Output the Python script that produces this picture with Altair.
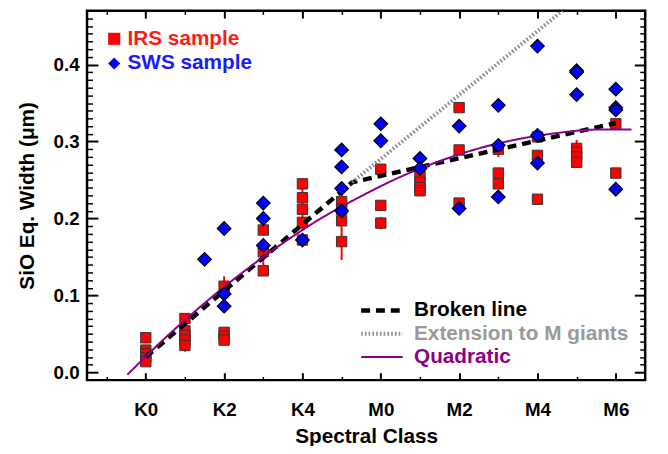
import altair as alt
import pandas as pd

# ---------------- data ----------------
CLASS_LABELS = ["K0", "K1", "K2", "K3", "K4", "K5", "M0", "M1", "M2", "M3", "M4", "M5", "M6"]

irs_x = [0, 0, 0, 0, 0, 1, 1, 1, 1, 1, 2, 2, 2, 2, 3, 3, 3, 4, 4, 4, 4, 4, 5, 5, 5, 5,
         6, 6, 6, 7, 7, 7, 7, 8, 8, 8, 9, 9, 9, 10, 10, 10, 11, 11, 11, 11, 12, 12]
irs_y = [0.045, 0.029, 0.024, 0.019, 0.014,
         0.070, 0.054, 0.048, 0.042, 0.035,
         0.112, 0.052, 0.047, 0.042,
         0.185, 0.157, 0.132,
         0.245, 0.227, 0.212, 0.195, 0.172,
         0.222, 0.212, 0.197, 0.170,
         0.264, 0.217, 0.194,
         0.255, 0.247, 0.240, 0.236,
         0.344, 0.289, 0.220,
         0.290, 0.259, 0.245,
         0.306, 0.282, 0.225,
         0.291, 0.286, 0.280, 0.273,
         0.323, 0.259]

sws_x = [1.5, 2, 2, 2, 3, 3, 3, 4, 5, 5, 5, 5, 6, 6, 7, 7, 8, 8, 9, 9, 9,
         10, 10, 10, 11, 11, 11, 12, 12, 12, 12]
sws_y = [0.147,
         0.187, 0.102, 0.086,
         0.220, 0.200, 0.165,
         0.172,
         0.289, 0.267, 0.239, 0.210,
         0.323, 0.301,
         0.278, 0.265,
         0.320, 0.213,
         0.347, 0.295, 0.228,
         0.424, 0.308, 0.272,
         0.392, 0.390, 0.361,
         0.368, 0.344, 0.341, 0.238]

err_x = [0, 1, 2, 3, 4, 5, 6, 9, 11]
err_lo = [0.038, 0.027, 0.099, 0.138, 0.184, 0.146, 0.186, 0.280, 0.270]
err_hi = [0.052, 0.043, 0.125, 0.172, 0.252, 0.232, 0.202, 0.300, 0.302]

broken_x = [0, 5.27, 12]
broken_y = [0.020, 0.247, 0.324]
ext_x = [5.27, 10.64]
ext_y = [0.247, 0.470]
quad_x = [-0.47, 0.5, 1.5, 2.5, 3.5, 4.5, 5.5, 6.5, 7.5, 8.5, 9.5, 10.5, 11.5, 12.4]
quad_y = [-0.003, 0.045, 0.090, 0.131, 0.168, 0.201, 0.229, 0.254, 0.2745, 0.291,
          0.303, 0.311, 0.3155, 0.3157]

SAMPLES = ["IRS sample", "SWS sample"]
CURVES = ["Broken line", "Extension to M giants", "Quadratic"]

x_major = [0, 2, 4, 6, 8, 10, 12]
x_minor = [-1, 1, 3, 5, 7, 9, 11]
y_major = [0.0, 0.1, 0.2, 0.3, 0.4]
y_minor = [round(i / 100, 2) for i in range(1, 47) if i % 10 != 0]

# ---------------- tables ----------------
irs_df = pd.DataFrame({"x": irs_x, "y": irs_y, "sample": SAMPLES[0]})
sws_df = pd.DataFrame({"x": sws_x, "y": sws_y, "sample": SAMPLES[1]})
err_df = pd.DataFrame({"x": err_x, "lo": err_lo, "hi": err_hi})
lin_df = pd.concat([
    pd.DataFrame({"x": broken_x, "y": broken_y, "curve": CURVES[0], "o": range(len(broken_x))}),
    pd.DataFrame({"x": ext_x, "y": ext_y, "curve": CURVES[1], "o": range(len(ext_x))}),
])
quad_df = pd.DataFrame({"x": quad_x, "y": quad_y, "curve": CURVES[2], "o": range(len(quad_x))})

FONT = "Liberation Sans"
XS = alt.Scale(domain=[-1.5, 12.75], nice=False, zero=False)
YS = alt.Scale(domain=[-0.01, 0.47], nice=False, zero=False)


def tick_axis(orient, values, size, width):
    return alt.Axis(orient=orient, values=values, labels=False, domain=False, grid=False,
                    ticks=True, tickSize=size, offset=-size, tickColor="black",
                    tickWidth=width, title=None)


label_expr = "[" + ",".join("'%s'" % c for c in CLASS_LABELS) + "][datum.value]"

x_lab = alt.Axis(orient="bottom", values=x_major, labelExpr=label_expr, ticks=False,
                 domain=False, grid=False, labelFont=FONT, labelFontWeight="bold",
                 labelFontSize=19, labelPadding=21, labelColor="black",
                 title="Spectral Class", titleFont=FONT, titleFontWeight="bold",
                 titleFontSize=21, titlePadding=6, titleColor="black")
y_lab = alt.Axis(orient="left", values=y_major, format=".1f", ticks=False, domain=False,
                 grid=False, labelFont=FONT, labelFontWeight="bold", labelFontSize=19,
                 labelPadding=8, labelColor="black",
                 title="SiO Eq. Width (μm)", titleFont=FONT, titleFontWeight="bold",
                 titleFontSize=21, titlePadding=16, titleColor="black")

legend_pts = alt.Legend(title=None, orient="none", legendX=17, legendY=18, padding=0,
                        labelFont=FONT, labelFontWeight="bold", labelFontSize=21,
                        labelColor={"expr": "datum.label == 'IRS sample' ? '#ff1a1a' : '#1a1aff'"},
                        symbolSize=150, symbolStrokeColor="black", symbolStrokeWidth=1,
                        labelOffset=3, rowPadding=3)
legend_ln = alt.Legend(title=None, orient="none", legendX=288, legendY=293, padding=0,
                       labelFont=FONT, labelFontWeight="bold", labelFontSize=21,
                       labelLimit=0,
                       labelColor={"expr": "datum.label == 'Broken line' ? '#000000' : (datum.label == 'Quadratic' ? '#8b008b' : '#999999')"},
                       symbolType="M-3,0L3,0", symbolSize=196, labelOffset=22, rowPadding=1.5)

fill_scale = alt.Scale(domain=SAMPLES, range=["#ff0000", "#0000ff"])
shape_scale = alt.Scale(domain=SAMPLES, range=["square", "diamond"])
stroke_scale = alt.Scale(domain=CURVES, range=["#000000", "#8a8a8a", "#8b008b"])
dash_scale = alt.Scale(domain=CURVES, range=[[9, 6], [1.6, 2.2], [1, 0]])
width_scale = alt.Scale(type="ordinal", domain=CURVES, range=[4.5, 4, 2])

err = alt.Chart(err_df).mark_rule(color="#ff0000", strokeWidth=2).encode(
    x=alt.X("x:Q", scale=XS, axis=x_lab),
    y=alt.Y("lo:Q", scale=YS, axis=y_lab),
    y2="hi:Q",
)

squares = alt.Chart(irs_df).mark_point(filled=True, size=110, stroke="#333333",
                                       strokeWidth=1, opacity=1).encode(
    x=alt.X("x:Q", scale=XS, axis=tick_axis("bottom", x_major, 7.5, 2)),
    y=alt.Y("y:Q", scale=YS, axis=tick_axis("left", y_major, 11, 2)),
    fill=alt.Fill("sample:N", scale=fill_scale, legend=legend_pts),
    shape=alt.Shape("sample:N", scale=shape_scale, legend=legend_pts),
)


def line_enc(chart, xaxis, yaxis):
    return chart.encode(
        x=alt.X("x:Q", scale=XS, axis=xaxis),
        y=alt.Y("y:Q", scale=YS, axis=yaxis),
        stroke=alt.Stroke("curve:N", scale=stroke_scale, legend=legend_ln),
        strokeDash=alt.StrokeDash("curve:N", scale=dash_scale, legend=legend_ln),
        strokeWidth=alt.StrokeWidth("curve:N", scale=width_scale, legend=legend_ln),
        order="o:Q",
    )


lin = line_enc(alt.Chart(lin_df).mark_line(clip=True),
               tick_axis("bottom", x_minor, 3.75, 1.5), tick_axis("left", y_minor, 5.5, 1.5))
quad = line_enc(alt.Chart(quad_df).mark_line(clip=True, interpolate="monotone"),
                tick_axis("top", x_major, 7.5, 2), tick_axis("right", y_major, 11, 2))

diamonds = alt.Chart(sws_df).mark_point(filled=True, size=190, stroke="black",
                                        strokeWidth=1.2, opacity=1).encode(
    x=alt.X("x:Q", scale=XS, axis=tick_axis("top", x_minor, 3.75, 1.5)),
    y=alt.Y("y:Q", scale=YS, axis=tick_axis("right", y_minor, 5.5, 1.5)),
    fill=alt.Fill("sample:N", scale=fill_scale, legend=legend_pts),
    shape=alt.Shape("sample:N", scale=shape_scale, legend=legend_pts),
)

chart = alt.layer(err, squares, lin, quad, diamonds).resolve_axis(
    x="independent", y="independent"
).properties(
    width=565, height=374,
    padding={"left": 80, "top": 0, "right": 15, "bottom": 64},
    autosize=alt.AutoSizeParams(type="none"),
).configure_view(stroke="black", strokeWidth=2.5)

chart.save("out.html", embed_options={"renderer": "svg", "actions": False})
